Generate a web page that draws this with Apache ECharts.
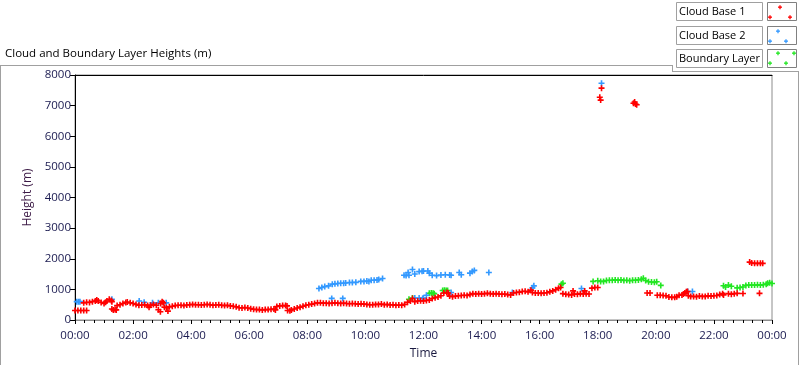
<!DOCTYPE html>
<html>
<head>
<meta charset="utf-8">
<script src="https://cdn.jsdelivr.net/npm/echarts@6/dist/echarts.min.js"></script>
<style>
html,body{margin:0;padding:0;background:#fff;}
#chart{width:800px;height:365px;}
</style>
</head>
<body>
<div id="chart"></div>
<script>
// ---- data (time in hours since 00:00, height in m) ----
var chartTitle = 'Cloud and Boundary Layer Heights (m)';
var seriesNames = ['Cloud Base 1', 'Cloud Base 2', 'Boundary Layer'];
var xTickLabels = ['00:00','02:00','04:00','06:00','08:00','10:00','12:00','14:00','16:00','18:00','20:00','22:00','00:00'];
var yTickValues = [0,1000,2000,3000,4000,5000,6000,7000,8000];

var cloudBase1 = [
 [0.0,310],[0.1,310],[0.2,310],[0.3,310],[0.4,310],
 [0.3,560],[0.4,580],[0.5,570],[0.6,600],[0.7,620],[0.75,650],[0.8,620],[0.9,570],[1.0,540],[1.05,580],[1.1,620],[1.18,680],[1.25,640],[1.27,600],
 [1.27,360],[1.32,330],[1.38,340],[1.42,330],
 [1.45,470],[1.55,500],[1.65,540],[1.75,570],[1.8,590],[1.9,560],[2.0,540],[2.1,510],
 [2.2,480],[2.3,490],[2.4,500],[2.5,470],[2.55,420],[2.6,480],[2.7,510],[2.8,480],[2.87,335],[2.94,270],[2.95,540],[3.0,600],[3.04,560],
 [3.08,420],[3.15,400],[3.2,290],[3.25,430],
 [3.35,450],[3.45,470],[3.55,480],[3.65,480],[3.75,470],[3.85,490],[3.95,500],[4.05,510],[4.15,500],[4.25,500],[4.35,490],[4.45,500],[4.55,510],[4.65,500],[4.75,480],[4.85,490],[4.95,500],[5.05,480],[5.15,470],[5.25,480],[5.35,460],[5.45,450],[5.55,430],[5.65,400],[5.75,390],[5.85,410],[5.95,390],
 [6.05,370],[6.15,350],[6.25,340],[6.35,340],[6.45,330],[6.55,340],[6.65,340],[6.75,350],[6.85,360],[6.9,330],
 [6.95,440],[7.05,460],[7.15,470],[7.25,470],[7.3,460],
 [7.32,310],[7.4,300],
 [7.45,330],[7.55,360],[7.65,390],[7.75,420],[7.85,450],[7.95,480],[8.05,500],[8.15,520],
 [8.25,540],[8.35,560],[8.45,560],[8.55,550],[8.65,550],[8.75,540],[8.85,550],[8.95,560],[9.05,550],[9.15,540],[9.25,550],[9.35,540],[9.45,530],[9.55,540],[9.65,530],[9.75,520],[9.85,530],[9.95,520],[10.05,510],[10.15,500],[10.25,500],[10.35,510],[10.45,510],[10.55,520],[10.65,500],[10.75,510],[10.85,490],[10.95,500],[11.05,480],[11.15,490],[11.25,480],[11.35,510],
 [11.45,580],[11.55,620],[11.62,700],[11.7,600],[11.8,620],[11.9,630],[12.0,620],[12.1,640],
 [12.2,650],[12.3,700],[12.4,730],[12.5,750],[12.6,790],[12.7,880],[12.8,900],[12.85,880],[12.9,780],[13.0,760],[13.1,780],[13.2,790],[13.3,800],[13.4,810],[13.5,800],[13.6,830],
 [13.7,860],[13.8,850],[13.9,860],[14.0,850],[14.1,860],[14.2,870],[14.3,860],[14.4,850],[14.5,860],[14.6,850],[14.7,840],[14.8,850],[14.9,830],[15.0,820],
 [15.1,880],[15.2,900],[15.3,910],[15.4,930],[15.5,940],[15.6,920],[15.7,975],[15.75,900],
 [15.85,880],[15.95,880],[16.05,870],[16.15,880],[16.25,890],[16.35,920],[16.45,950],[16.55,990],[16.65,1040],[16.72,1060],
 [16.8,860],[16.9,840],[17.0,830],[17.1,820],[17.15,950],[17.2,850],[17.3,840],[17.4,860],[17.5,850],[17.55,950],[17.6,860],[17.7,850],
 [17.8,1040],[17.9,1060],[18.0,1060],
 [18.07,7275],[18.1,7180],[18.13,7570],[19.23,7080],[19.27,7120],[19.3,7050],[19.34,7030],
 [19.7,880],[19.8,880],
 [20.05,810],[20.15,810],[20.25,800],[20.35,790],[20.45,750],[20.55,740],[20.65,740],[20.72,760],[20.8,810],[20.9,820],[20.95,850],[21.0,880],[21.05,920],[21.09,930],
 [21.12,790],[21.2,770],[21.3,770],[21.4,760],[21.5,780],[21.6,770],[21.7,770],[21.8,790],[21.9,780],[22.0,790],[22.1,800],[22.2,830],[22.3,860],[22.33,820],
 [22.5,860],[22.6,840],[22.7,860],[22.8,870],[23.0,865],[23.57,870],
 [23.23,1890],[23.3,1860],[23.4,1850],[23.5,1850],[23.6,1850],[23.68,1850]
];

var cloudBase2 = [
 [0.06,600],[0.12,600],[0.17,600],[1.27,680],[2.21,620],[2.38,580],[2.67,560],[2.87,560],[3.14,560],
 [8.4,1030],[8.5,1060],[8.6,1090],[8.73,1115],[8.86,1170],[8.95,1180],[9.05,1190],[9.15,1200],[9.25,1200],[9.32,1210],[9.45,1225],[9.55,1225],[9.67,1230],[9.84,1260],[9.95,1260],[10.05,1270],[10.12,1260],[10.2,1300],[10.3,1300],[10.4,1310],[10.46,1320],[10.59,1355],
 [8.84,705],[9.22,705],
 [11.33,1460],[11.4,1450],[11.47,1550],[11.5,1460],[11.62,1650],[11.7,1500],[11.85,1580],[11.95,1590],[12.0,1600],[12.15,1600],[12.2,1530],[12.3,1460],[12.45,1450],[12.6,1470],[12.75,1480],[12.9,1470],[12.95,1460],[13.23,1550],[13.3,1480],[13.6,1530],[13.68,1580],[13.75,1620],[14.25,1550],
 [11.7,715],[11.85,720],[12.0,715],[11.97,700],[12.1,810],[12.95,900],[15.06,900],[15.75,1050],[15.8,1115],[17.44,1030],[18.13,7730],[21.1,930],[21.26,930]
];

var boundaryLayer = [
 [11.5,680],[11.62,715],[12.2,870],[12.27,880],[12.33,870],[12.37,860],[12.66,965],[12.72,970],[12.78,960],[12.83,965],
 [16.75,1170],[16.8,1200],[17.84,1260],[18.0,1280],[18.1,1260],[18.2,1260],[18.3,1290],[18.4,1300],[18.5,1300],[18.6,1310],[18.7,1300],[18.8,1310],[18.9,1290],[19.0,1300],[19.1,1280],[19.2,1300],[19.3,1300],[19.4,1310],[19.5,1330],[19.57,1365],[19.65,1290],[19.75,1250],[19.85,1240],[19.95,1230],[20.03,1250],[20.17,1130],
 [22.33,1120],[22.4,1080],[22.5,1140],[22.6,1100],[22.8,1050],[22.9,1060],[23.0,1080],[23.1,1130],[23.2,1140],[23.3,1140],[23.4,1140],[23.5,1150],[23.6,1140],[23.7,1150],[23.8,1170],[23.85,1200],[23.92,1220],[24.0,1190]
];

var colors = ['#ff0000', '#3399ff', '#22e622'];

// ---- chart ----
var FONT = 'Open Sans';
var plus = 'path://M0,2.2L6,2.2L6,3.8L0,3.8Z M2.2,0L3.8,0L3.8,6L2.2,6Z';
var chart = echarts.init(document.getElementById('chart'), null, {renderer: 'canvas'});

function legendItem(i, y, crosses) {
  var els = [
    {type:'rect', shape:{x:676.5, y:y+0.5, width:86, height:18}, style:{fill:'#fff', stroke:'#a0a0a0', lineWidth:1}},
    {type:'text', x:679, y:y+10, style:{text:seriesNames[i], font:'11px "' + FONT + '"', fill:'#000', verticalAlign:'middle'}},
    {type:'rect', shape:{x:767.5, y:y+0.5, width:29, height:18}, style:{fill:'#fff', stroke:'#808080', lineWidth:1}}
  ];
  crosses.forEach(function(c){
    els.push({type:'rect', shape:{x:c[0]-1, y:y+c[1]-0.5, width:4, height:1.3}, style:{fill:colors[i]}});
    els.push({type:'rect', shape:{x:c[0]+0.35, y:y+c[1]-1.85, width:1.3, height:4}, style:{fill:colors[i]}});
  });
  return els;
}

var graphics = [].concat(
  [
    {type:'line', shape:{x1:0, y1:65.5, x2:672, y2:65.5}, style:{stroke:'#a0a0a0', lineWidth:1}},
    {type:'line', shape:{x1:0.5, y1:65, x2:0.5, y2:365}, style:{stroke:'#a0a0a0', lineWidth:1}},
    {type:'line', shape:{x1:672.5, y1:65, x2:672.5, y2:72}, style:{stroke:'#a0a0a0', lineWidth:1}},
    {type:'line', shape:{x1:672, y1:71.5, x2:799, y2:71.5}, style:{stroke:'#a0a0a0', lineWidth:1}},
    {type:'line', shape:{x1:798.5, y1:71, x2:798.5, y2:365}, style:{stroke:'#a0a0a0', lineWidth:1}},
    {type:'text', x:5, y:54, style:{text:chartTitle, font:'11.5px "' + FONT + '"', fill:'#000', verticalAlign:'middle'}}
  ],
  legendItem(0, 2, [[779,5],[769,15],[789,15]]),
  legendItem(1, 26, [[777,5],[769,15],[785,15]]),
  legendItem(2, 49, [[777,4],[793,4],[769,14],[785,14]])
);

function sc(name, data, color, z) {
  return {
    name: name, type: 'scatter', data: data, symbol: plus, symbolSize: 6,
    itemStyle: {color: color, opacity: 1}, z: z, silent: true, animation: false
  };
}

chart.setOption({
  animation: false,
  grid: {left: 75, top: 75, width: 697, height: 246, show: true, borderColor: '#8c8c8c', borderWidth: 1, backgroundColor: '#fff'},
  xAxis: [{
    type: 'value', min: 0, max: 24, interval: 2,
    name: 'Time', nameLocation: 'middle', nameGap: 28,
    nameTextStyle: {fontFamily: FONT, fontSize: 12, color: '#1a1a40'},
    axisLine: {show: true, lineStyle: {color: '#8c8c8c', width: 1}},
    axisTick: {show: true, length: 4, lineStyle: {color: '#000'}},
    minorTick: {show: true, splitNumber: 6, length: 3, lineStyle: {color: '#000'}},
    axisLabel: {fontFamily: FONT, fontSize: 11.5, color: '#1a1a50', margin: 10,
      formatter: function(v){ return xTickLabels[Math.round(v/2)]; }},
    splitLine: {show: false}, minorSplitLine: {show: false}
  }, {
    type: 'value', min: 0, max: 24, position: 'top',
    axisLine: {show: true, onZero: false, lineStyle: {color: '#000', width: 1}},
    axisTick: {show: false}, axisLabel: {show: false}, splitLine: {show: false}
  }],
  yAxis: {
    type: 'value', min: yTickValues[0], max: yTickValues[yTickValues.length-1], interval: 1000,
    name: 'Height (m)', nameLocation: 'middle', nameGap: 37, nameRotate: 90,
    nameTextStyle: {fontFamily: FONT, fontSize: 12, color: '#3c1a46'},
    axisLine: {show: true, onZero: false, lineStyle: {color: '#000', width: 1}},
    axisTick: {show: true, length: 5, lineStyle: {color: '#000'}},
    axisLabel: {fontFamily: FONT, fontSize: 11.5, color: '#1a1a50', margin: 4,
      formatter: function(v){ return String(v); }},
    splitLine: {show: false}
  },
  series: [
    sc(seriesNames[2], boundaryLayer, colors[2], 2),
    sc(seriesNames[1], cloudBase2, colors[1], 3),
    sc(seriesNames[0], cloudBase1, colors[0], 4)
  ],
  graphic: graphics
});
</script>
</body>
</html>
